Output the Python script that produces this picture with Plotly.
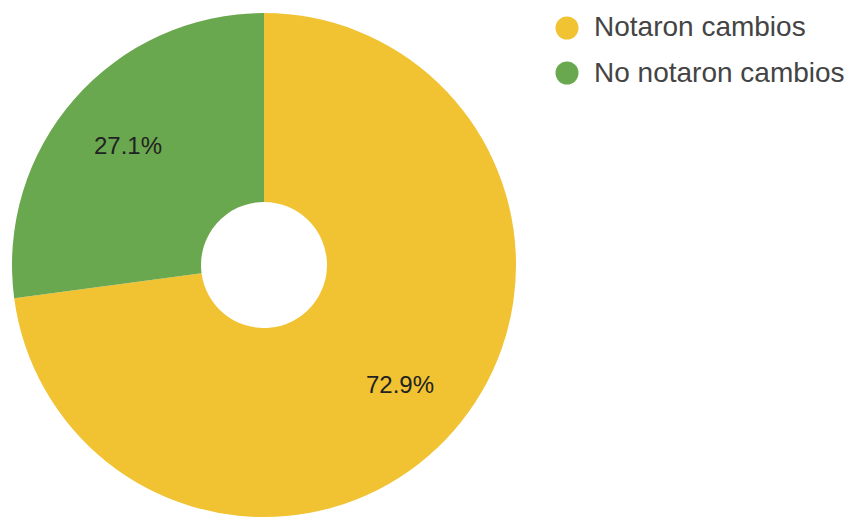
import math
import plotly.graph_objects as go

labels = ["Notaron cambios", "No notaron cambios"]
values = [72.9, 27.1]
colors = ["#F1C232", "#6AA84F"]

# browser's default 8px body margin shifts the figure; compensate
OFF = 8
W, H = 857 - OFF, 518 - OFF
cx, cy, R = 264 - OFF, 265 - OFF, 252  # pixel center/radius of pie
FONT = "Arial, Liberation Sans, sans-serif"

fig = go.Figure()
fig.add_trace(go.Pie(
    labels=labels,
    values=values,
    marker=dict(colors=colors, line=dict(width=0)),
    hole=0.25,
    sort=False,
    direction="clockwise",
    rotation=0,
    textinfo="none",
    showlegend=False,
    domain=dict(x=[(cx - R) / W, (cx + R) / W], y=[(H - cy - R) / H, (H - cy + R) / H]),
))

shapes = []
annotations = []

# percentage labels, placed at the mid-angle of each slice
total = sum(values)
cum = 0.0
for v in values:
    mid = (cum + v / 2) / total * 2 * math.pi
    cum += v
    rr = 0.72 * R
    px = cx + rr * math.sin(mid)
    py = cy - rr * math.cos(mid)
    annotations.append(dict(text=f"{v / total * 100:.1f}%", xref="paper", yref="paper",
                            x=px / W, y=(H - py) / H, xanchor="center", yanchor="middle",
                            showarrow=False,
                            font=dict(family=FONT, size=24, color="#222222")))

# Legend drawn as layout decorations (circles + labels)
leg_x, leg_y0, leg_dy, mr = 567 - OFF, 28 - OFF, 45, 11.5
for i, (lab, col) in enumerate(zip(labels, colors)):
    y = leg_y0 + i * leg_dy
    shapes.append(dict(type="circle", xref="paper", yref="paper",
                       x0=(leg_x - mr) / W, x1=(leg_x + mr) / W,
                       y0=(H - y - mr) / H, y1=(H - y + mr) / H,
                       fillcolor=col, line=dict(width=0)))
    annotations.append(dict(text=lab, xref="paper", yref="paper",
                            x=(592 - OFF) / W, y=(H - y + 1) / H, xanchor="left", yanchor="middle",
                            showarrow=False,
                            font=dict(family=FONT, size=28, color="#444444")))

fig.update_layout(
    width=W, height=H,
    margin=dict(l=0, r=0, t=0, b=0),
    paper_bgcolor="white", plot_bgcolor="white",
    shapes=shapes, annotations=annotations,
)

fig.write_html("out.html")
